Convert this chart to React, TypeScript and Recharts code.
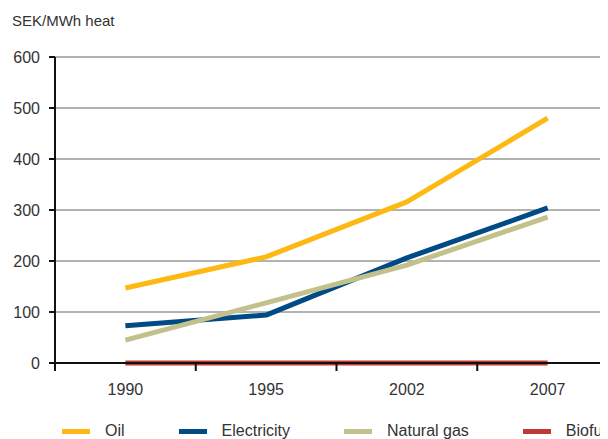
import React from 'react';
import { LineChart, Line, XAxis, YAxis, CartesianGrid, Legend } from 'recharts';

const years = ['1990', '1995', '2002', '2007'];
const oil = [147, 208, 316, 480];
const electricity = [73, 94, 206, 304];
const naturalGas = [45, 118, 192, 286];
const biofuel = [0, 0, 0, 0];
const yTicks = [0, 100, 200, 300, 400, 500, 600];

const seriesNames = ['Oil', 'Electricity', 'Natural gas', 'Biofuel'];
const seriesKeys = ['oil', 'electricity', 'gas', 'biofuel'];
const seriesColors = ['#FDB813', '#004A86', '#C3C18B', '#BF3A35'];

const data = years.map((y, i) => ({
  x: i + 0.5,
  year: y,
  oil: oil[i],
  electricity: electricity[i],
  gas: naturalGas[i],
  biofuel: biofuel[i],
}));

// positions in category units: boundaries at integers, labels at half steps
const xTicks: number[] = [];
for (let i = 0; i <= years.length; i++) {
  xTicks.push(i);
  if (i < years.length) xTicks.push(i + 0.5);
}

const FONT = '"Liberation Sans", Arial, sans-serif';
const TEXT = '#333333';

const XTick = (props: any) => {
  const { x, y, payload } = props;
  const v = payload.value as number;
  if (Number.isInteger(v)) {
    return <line x1={x} x2={x} y1={y} y2={y + 8} stroke="#111" strokeWidth={2} />;
  }
  const label = years[Math.floor(v)];
  return (
    <text x={x} y={y + 26} textAnchor="middle" dominantBaseline="central" fill={TEXT} fontSize={16} fontFamily={FONT}>
      {label}
    </text>
  );
};

const LegendContent = (props: any) => {
  const payload = [...(props.payload || [])].sort(
    (a: any, b: any) => seriesNames.indexOf(a.value) - seriesNames.indexOf(b.value)
  );
  return (
    <div style={{ display: 'flex', alignItems: 'center', paddingLeft: 54, whiteSpace: 'nowrap', fontFamily: FONT, fontSize: 16, color: TEXT, height: 20 }}>
      {payload.map((p: any, i: number) => (
        <div key={i} style={{ display: 'flex', alignItems: 'center', marginRight: 54 }}>
          <span style={{ display: 'inline-block', width: 28, height: 5, background: p.color, marginRight: 15 }} />
          <span style={{ lineHeight: '20px' }}>{p.value}</span>
        </div>
      ))}
    </div>
  );
};

export default function App() {
  return (
    <div style={{ position: 'relative', width: 600, height: 431, overflow: 'hidden', background: '#fff' }}>
      <div style={{ position: 'absolute', left: 4, top: 5, fontFamily: FONT, fontSize: 15, color: TEXT, lineHeight: '16px' }}>
        SEK/MWh heat
      </div>
      <LineChart width={610} height={431} data={data} margin={{ top: 49, right: 0, bottom: 24, left: 0 }}>
        <CartesianGrid horizontal vertical={false} stroke="#666" strokeWidth={1} />
        <XAxis
          dataKey="x"
          type="number"
          domain={[0, years.length]}
          ticks={xTicks}
          interval={0}
          tickLine={false}
          tickSize={0}
          tickMargin={0}
          axisLine={{ stroke: '#111', strokeWidth: 2 }}
          tick={<XTick />}
          height={30}
        />
        <YAxis
          domain={[0, 600]}
          ticks={yTicks}
          interval={0}
          width={47}
          axisLine={{ stroke: '#111', strokeWidth: 2 }}
          tickLine={{ stroke: '#111', strokeWidth: 2 }}
          tickSize={6}
          tickMargin={9}
          tick={{ fill: TEXT, fontSize: 16, fontFamily: FONT }}
        />
        <Legend
          content={<LegendContent />}
          wrapperStyle={{ top: 413, left: 0, width: 610, height: 22 }}
        />
        {seriesKeys.map((k, i) => (
          <Line
            key={k}
            dataKey={k}
            name={seriesNames[i]}
            stroke={seriesColors[i]}
            strokeWidth={5}
            dot={false}
            activeDot={false}
            type="linear"
            strokeLinecap="butt"
            strokeLinejoin="round"
            isAnimationActive={false}
          />
        ))}
      </LineChart>
    </div>
  );
}
